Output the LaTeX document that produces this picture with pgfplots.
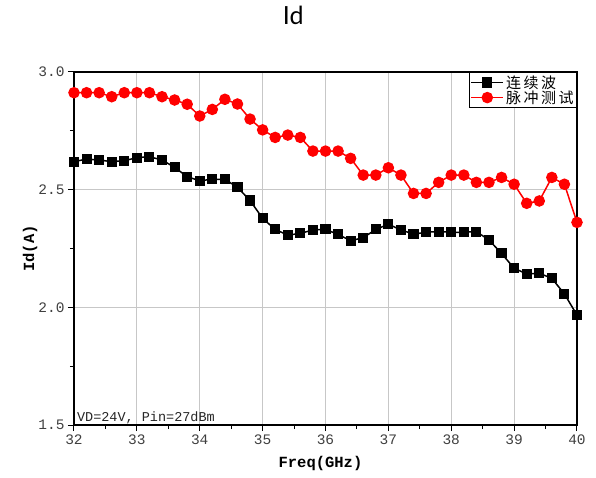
\documentclass[border=0pt]{standalone}
\usepackage{pgfplots}
\pgfplotsset{compat=1.18}
\usepackage{pgfplotstable}
\usepackage{fontspec}
\setmainfont{Liberation Mono}
\newfontfamily\cjk{Noto Sans CJK SC}
\newfontfamily\titlefont{Lato}

\pgfplotstableread{
f cw
32.0 2.619
32.2 2.630
32.4 2.626
32.6 2.619
32.8 2.623
33.0 2.636
33.2 2.640
33.4 2.626
33.6 2.595
33.8 2.555
34.0 2.538
34.2 2.544
34.4 2.544
34.6 2.510
34.8 2.454
35.0 2.378
35.2 2.331
35.4 2.307
35.6 2.314
35.8 2.329
36.0 2.331
36.2 2.310
36.4 2.283
36.6 2.296
36.8 2.331
37.0 2.353
37.2 2.329
37.4 2.311
37.6 2.319
37.8 2.322
38.0 2.319
38.2 2.319
38.4 2.322
38.6 2.286
38.8 2.229
39.0 2.166
39.2 2.142
39.4 2.145
39.6 2.123
39.8 2.057
40.0 1.967
}\cwdata

\pgfplotstableread{
f pulse
32.0 2.912
32.2 2.912
32.4 2.912
32.6 2.895
32.8 2.912
33.0 2.912
33.2 2.912
33.4 2.895
33.6 2.881
33.8 2.863
34.0 2.813
34.2 2.841
34.4 2.884
34.6 2.864
34.8 2.800
35.0 2.754
35.2 2.722
35.4 2.732
35.6 2.722
35.8 2.664
36.0 2.664
36.2 2.664
36.4 2.633
36.6 2.562
36.8 2.562
37.0 2.593
37.2 2.562
37.4 2.484
37.6 2.484
37.8 2.531
38.0 2.562
38.2 2.562
38.4 2.531
38.6 2.531
38.8 2.552
39.0 2.523
39.2 2.442
39.4 2.452
39.6 2.552
39.8 2.523
40.0 2.361
}\pulsedata

\begin{document}
\begin{tikzpicture}
\path[use as bounding box] (-74pt,-52pt) rectangle (522pt,425pt);
\begin{axis}[
  at={(0pt,0pt)}, anchor=south west,
  scale only axis,
  width=503pt, height=353pt,
  xmin=32, xmax=40, ymin=1.5, ymax=3.0,
  xtick={32,33,...,40},
  ytick={1.5,2.0,2.5,3.0},
  minor x tick num=1,
  minor y tick num=1,
  xtick pos=left, ytick pos=left,
  tick align=outside,
  major tick length=6pt,
  minor tick length=4pt,
  every tick/.style={black, line width=1pt},
  xmajorgrids, ymajorgrids,
  major grid style={color=black!22, line width=0.8pt},
  axis line style={line width=1.4pt},
  /pgf/number format/assume math mode=true,
  /pgf/number format/fixed,
  /pgf/number format/fixed zerofill,
  yticklabel style={/pgf/number format/precision=1, font=\fontsize{14.5}{16}\selectfont, text=black!75},
  xticklabel style={/pgf/number format/precision=0, font=\fontsize{14.5}{16}\selectfont, text=black!75},
  xlabel={\textbf{Freq(GHz)}},
  ylabel={\textbf{Id(A)}},
  every axis x label/.style={at={(axis description cs:0.49,-0.108)}, anchor=center, font=\fontsize{15.5}{17}\selectfont},
  every axis y label/.style={at={(axis description cs:-0.087,0.5)}, rotate=90, anchor=center, font=\fontsize{15.5}{17}\selectfont},
  title={\titlefont Id},
  title style={at={(axis description cs:0.436,1.142)}, anchor=center, font=\fontsize{25}{28}\selectfont},
  legend style={at={(1,1)}, anchor=north east, draw=black, line width=0.9pt,
    font=\fontsize{15}{17}\selectfont, inner sep=1pt, row sep=-3pt,
    legend cell align=left},
  legend image code/.code={
    \draw[mark repeat=2, mark phase=2, #1] plot coordinates {(0pt,0pt) (16pt,0pt) (32pt,0pt)};
  },
]
\addplot[black, line width=1.5pt, mark=square*, mark size=4.3pt, mark options={solid}] table[x=f, y=cw] {\cwdata};
\addlegendentry{\cjk 连\,续\,波}
\addplot[red, line width=1.5pt, mark=*, mark size=5pt, mark options={solid}] table[x=f, y=pulse] {\pulsedata};
\addlegendentry{\cjk 脉\,冲\,测\,试}
\node[anchor=south west, inner sep=1pt, font=\fontsize{13.5}{15}\selectfont, text=black!85] at (axis cs:32.03,1.5) {VD=24V, Pin=27dBm};
\end{axis}
\end{tikzpicture}
\end{document}
